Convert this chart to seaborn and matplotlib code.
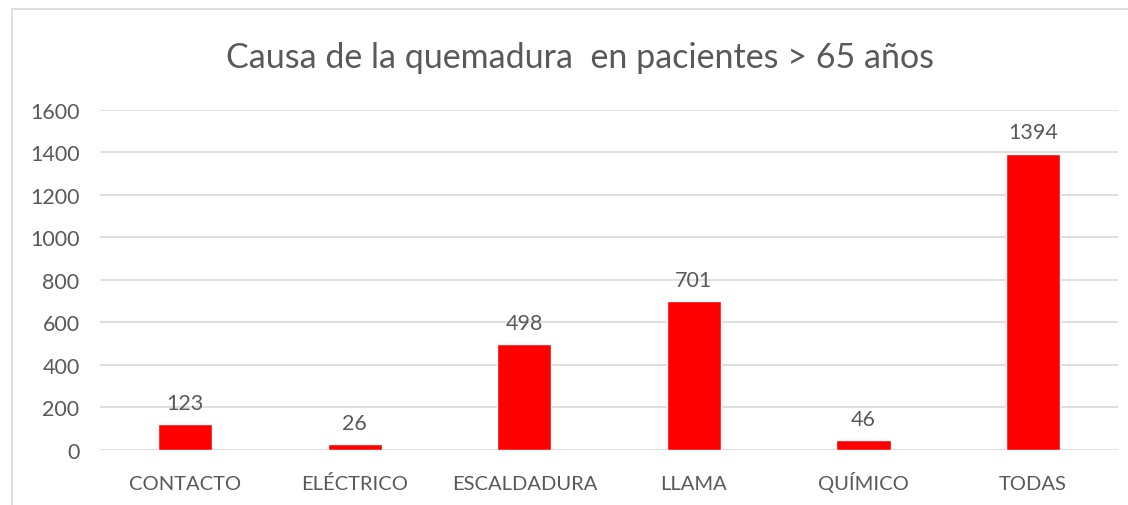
import seaborn as sns
import matplotlib.pyplot as plt
import pandas as pd
from matplotlib.patches import Rectangle

categories = ["CONTACTO", "ELÉCTRICO", "ESCALDADURA", "LLAMA", "QUÍMICO", "TODAS"]
counts = [123, 26, 498, 701, 46, 1394]
yticks = [0, 200, 400, 600, 800, 1000, 1200, 1400, 1600]

df = pd.DataFrame({"Causa": categories, "Pacientes": counts})

sns.set_style("white")
plt.rcParams["font.family"] = ["Lato", "DejaVu Sans"]
grey = "#595959"

fig = plt.figure(figsize=(11.28, 5.06), dpi=100)
ax = fig.add_axes([0.089, 0.109, 0.902, 0.672])

sns.barplot(data=df, x="Causa", y="Pacientes", color="#ff0000", width=0.32,
            saturation=1, ax=ax)
ax.bar_label(ax.containers[0], padding=8, fontsize=15.5, color=grey)

ax.set_ylim(0, 1600)
ax.set_yticks(yticks)
ax.set_xlim(-0.5, len(categories) - 0.5)
ax.yaxis.grid(True, color="#d9d9d9", linewidth=1.2)
ax.set_axisbelow(True)
for s in ax.spines.values():
    s.set_visible(False)
ax.tick_params(axis="y", length=0, labelsize=15.5, labelcolor=grey, pad=15)
ax.tick_params(axis="x", length=0, labelsize=14.5, labelcolor=grey, pad=28)
for lab in ax.get_xticklabels():
    lab.set_verticalalignment("baseline")
ax.set_xlabel("")
ax.set_ylabel("")

fig.text(0.514, 0.885, "Causa de la quemadura  en pacientes > 65 años",
         ha="center", va="center", fontsize=24.5, color=grey)

# chart border
fig.patches.append(Rectangle((0.011, -0.05), 1.1, 1.03, transform=fig.transFigure,
                             fill=False, edgecolor="#d9d9d9", linewidth=1.2))

fig.savefig("out.png", dpi=100)
